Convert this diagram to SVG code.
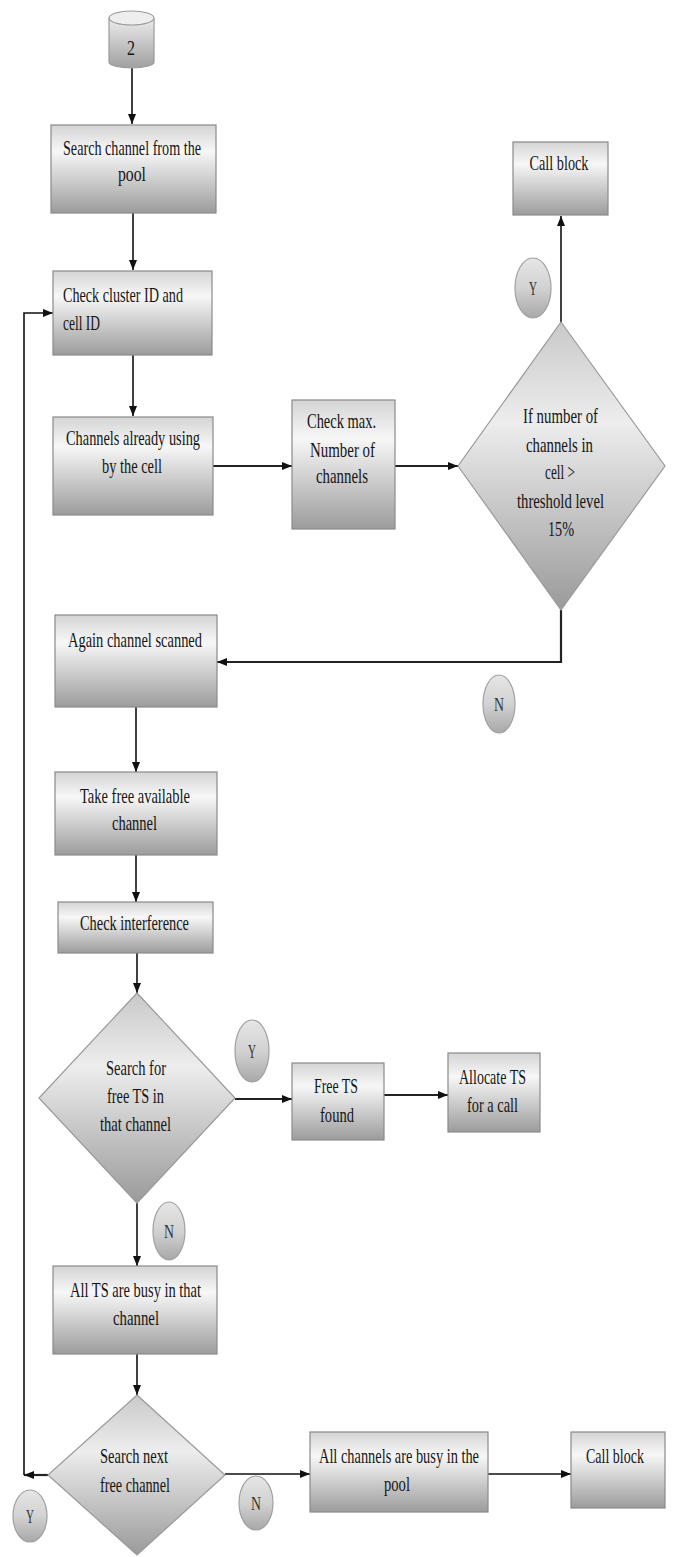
<svg xmlns="http://www.w3.org/2000/svg" width="676" height="1557" viewBox="0 0 676 1557">
<style>
.box{fill:url(#gb);stroke:#8a8a8a;stroke-width:1.2}
.sh{fill:none;stroke:#cfcfcf;stroke-width:1.5}
.dia{fill:url(#gd);stroke:#9a9a9a;stroke-width:1.2}
.el{fill:url(#ge);stroke:#a0a0a0;stroke-width:1.2}
.t{font-family:"Liberation Serif","Times New Roman",serif;font-size:21px;fill:#151515;text-anchor:middle}
.tl{font-family:"Liberation Serif","Times New Roman",serif;font-size:21px;fill:#151515;text-anchor:start}
.lt{font-family:"Liberation Serif","Times New Roman",serif;font-size:18px;fill:#333;text-anchor:middle}
.c{fill:none;stroke:#111;stroke-width:1.6}
.h{fill:none;stroke:#222;stroke-width:2.2}
</style>
<defs>
<linearGradient id="gb" x1="0" y1="0" x2="0" y2="1">
<stop offset="0" stop-color="#d4d4d4"/>
<stop offset="0.3" stop-color="#f7f7f7"/>
<stop offset="1" stop-color="#9c9c9c"/>
</linearGradient>
<linearGradient id="gd" x1="0" y1="0" x2="0" y2="1">
<stop offset="0" stop-color="#c9c9c9"/>
<stop offset="0.35" stop-color="#ededed"/>
<stop offset="1" stop-color="#9a9a9a"/>
</linearGradient>
<linearGradient id="ge" x1="0" y1="0" x2="0" y2="1">
<stop offset="0" stop-color="#e6e6e6"/>
<stop offset="0.5" stop-color="#d2d2d2"/>
<stop offset="1" stop-color="#a8a8a8"/>
</linearGradient>
<linearGradient id="gc" x1="0" y1="0" x2="0" y2="1">
<stop offset="0" stop-color="#ececec"/>
<stop offset="1" stop-color="#a0a0a0"/>
</linearGradient>
<marker id="a" viewBox="0 0 10 8" refX="10" refY="4" markerWidth="10" markerHeight="8" markerUnits="userSpaceOnUse" orient="auto">
<path d="M0,0 L10,4 L0,8 z" fill="#111"/>
</marker>
</defs>

<g id="connectors">
<path class="c" d="M132,68 L132,124" marker-end="url(#a)"/>
<path class="c" d="M133,213 L133,270" marker-end="url(#a)"/>
<path class="c" d="M133,355 L133,416" marker-end="url(#a)"/>
<path class="h" d="M213,466 L292,466" marker-end="url(#a)"/>
<path class="h" d="M395,466 L458,466" marker-end="url(#a)"/>
<path class="c" d="M561,322 L561,216" marker-end="url(#a)"/>
<path class="h" d="M561,610 L561,662 L217,662" marker-end="url(#a)"/>
<path class="c" d="M136,707 L136,772" marker-end="url(#a)"/>
<path class="c" d="M136,855 L136,902" marker-end="url(#a)"/>
<path class="c" d="M137,953 L137,993" marker-end="url(#a)"/>
<path class="h" d="M235,1099 L292,1099" marker-end="url(#a)"/>
<path class="h" d="M384,1095 L448,1095" marker-end="url(#a)"/>
<path class="c" d="M137,1203 L137,1266" marker-end="url(#a)"/>
<path class="c" d="M137,1354 L137,1395" marker-end="url(#a)"/>
<path class="c" d="M225,1474 L310,1474" marker-end="url(#a)"/>
<path class="c" d="M488,1474 L571,1474" marker-end="url(#a)"/>
<path class="h" d="M48,1475 L24,1475" marker-end="url(#a)"/>
<path class="c" d="M24,1475 L24,313 L53,313" marker-end="url(#a)"/>
</g>

<g id="start">
<path d="M109,18 L109,62 A22.5,6 0 0 0 154,62 L154,18" fill="url(#gc)" stroke="#9a9a9a" stroke-width="1.2"/>
<ellipse cx="131.5" cy="18" rx="22.5" ry="7" fill="#eeeeee" stroke="#9a9a9a" stroke-width="1.2"/>
<text class="t" x="131" y="55" font-size="22" textLength="8" lengthAdjust="spacingAndGlyphs">2</text>
</g>

<g id="search-pool">
<rect class="box" x="51" y="125" width="165" height="88"/>
<text class="t" x="132" y="155" textLength="138" lengthAdjust="spacingAndGlyphs">Search channel from the</text>
<text class="t" x="132" y="181" textLength="28" lengthAdjust="spacingAndGlyphs">pool</text>
</g>

<g id="check-cluster">
<rect class="box" x="53" y="271" width="159" height="84"/>
<text class="tl" x="63" y="302" textLength="120" lengthAdjust="spacingAndGlyphs">Check cluster ID and</text>
<text class="tl" x="63" y="330" textLength="37" lengthAdjust="spacingAndGlyphs">cell ID</text>
</g>

<g id="channels-using">
<rect class="box" x="53" y="417" width="160" height="98"/>
<text class="t" x="133" y="445" textLength="134" lengthAdjust="spacingAndGlyphs">Channels already using</text>
<text class="t" x="132" y="473" textLength="60" lengthAdjust="spacingAndGlyphs">by the cell</text>
</g>

<g id="check-max">
<rect class="box" x="292" y="400" width="103" height="129"/>
<text class="t" x="341.5" y="428" textLength="69" lengthAdjust="spacingAndGlyphs">Check max.</text>
<text class="t" x="342.5" y="457" textLength="65" lengthAdjust="spacingAndGlyphs">Number of</text>
<text class="t" x="342" y="483" textLength="52" lengthAdjust="spacingAndGlyphs">channels</text>
</g>

<g id="threshold">
<polygon class="dia" points="561,322 665,466 561,610 458,466"/>
<text class="t" x="560.5" y="423" textLength="75" lengthAdjust="spacingAndGlyphs">If number of</text>
<text class="t" x="559.5" y="452" textLength="67" lengthAdjust="spacingAndGlyphs">channels in</text>
<text class="t" x="560" y="479" textLength="30" lengthAdjust="spacingAndGlyphs">cell &gt;</text>
<text class="t" x="560.5" y="508" textLength="87" lengthAdjust="spacingAndGlyphs">threshold level</text>
<text class="t" x="561" y="536" textLength="26" lengthAdjust="spacingAndGlyphs">15%</text>
</g>

<g id="call-block-1">
<rect class="box" x="513" y="142" width="95" height="73"/>
<text class="t" x="559" y="170" textLength="59" lengthAdjust="spacingAndGlyphs">Call block</text>
</g>

<g id="label-y1">
<ellipse class="el" cx="533" cy="288" rx="18" ry="30"/>
<text class="lt" x="533" y="295" textLength="8" lengthAdjust="spacingAndGlyphs">Y</text>
</g>

<g id="label-n1">
<ellipse class="el" cx="499" cy="704" rx="16" ry="29"/>
<text class="lt" x="499" y="711" textLength="10" lengthAdjust="spacingAndGlyphs">N</text>
</g>

<g id="again-scanned">
<rect class="box" x="55" y="615" width="162" height="92"/>
<text class="t" x="135" y="647" textLength="134" lengthAdjust="spacingAndGlyphs">Again channel scanned</text>
</g>

<g id="take-free">
<rect class="box" x="55" y="772" width="162" height="83"/>
<text class="t" x="135" y="803" textLength="110" lengthAdjust="spacingAndGlyphs">Take free available</text>
<text class="t" x="134.5" y="830" textLength="45" lengthAdjust="spacingAndGlyphs">channel</text>
</g>

<g id="check-interference">
<rect class="box" x="58" y="902" width="155" height="51"/>
<text class="t" x="134.5" y="930" textLength="109" lengthAdjust="spacingAndGlyphs">Check interference</text>
</g>

<g id="search-free-ts">
<polygon class="dia" points="137,993 235,1098 137,1203 39,1098"/>
<text class="t" x="136" y="1075" textLength="60" lengthAdjust="spacingAndGlyphs">Search for</text>
<text class="t" x="135.5" y="1103" textLength="57" lengthAdjust="spacingAndGlyphs">free TS in</text>
<text class="t" x="135.5" y="1131" textLength="71" lengthAdjust="spacingAndGlyphs">that channel</text>
</g>

<g id="label-y2">
<ellipse class="el" cx="252" cy="1051" rx="17" ry="31"/>
<text class="lt" x="252" y="1058" textLength="8" lengthAdjust="spacingAndGlyphs">Y</text>
</g>

<g id="free-ts-found">
<rect class="box" x="292" y="1063" width="92" height="77"/>
<text class="t" x="336" y="1093" textLength="44" lengthAdjust="spacingAndGlyphs">Free TS</text>
<text class="t" x="337" y="1122" textLength="34" lengthAdjust="spacingAndGlyphs">found</text>
</g>

<g id="allocate-ts">
<rect class="box" x="448" y="1053" width="92" height="79"/>
<text class="t" x="492.5" y="1084" textLength="67" lengthAdjust="spacingAndGlyphs">Allocate TS</text>
<text class="t" x="492.5" y="1112" textLength="51" lengthAdjust="spacingAndGlyphs">for a call</text>
</g>

<g id="label-n2">
<ellipse class="el" cx="169" cy="1231" rx="16" ry="29"/>
<text class="lt" x="169" y="1238" textLength="10" lengthAdjust="spacingAndGlyphs">N</text>
</g>

<g id="all-ts-busy">
<rect class="box" x="53" y="1266" width="164" height="88"/>
<text class="t" x="135.5" y="1297" textLength="131" lengthAdjust="spacingAndGlyphs">All TS are busy in that</text>
<text class="t" x="136" y="1325" textLength="46" lengthAdjust="spacingAndGlyphs">channel</text>
</g>

<g id="search-next">
<polygon class="dia" points="137,1395 225,1475 137,1555 48,1475"/>
<text class="t" x="134" y="1463" textLength="68" lengthAdjust="spacingAndGlyphs">Search next</text>
<text class="t" x="135" y="1492" textLength="70" lengthAdjust="spacingAndGlyphs">free channel</text>
</g>

<g id="label-y3">
<ellipse class="el" cx="30" cy="1516" rx="17" ry="26"/>
<text class="lt" x="30" y="1523" textLength="8" lengthAdjust="spacingAndGlyphs">Y</text>
</g>

<g id="label-n3">
<ellipse class="el" cx="256" cy="1503" rx="17" ry="27"/>
<text class="lt" x="256" y="1510" textLength="10" lengthAdjust="spacingAndGlyphs">N</text>
</g>

<g id="all-channels-busy">
<rect class="box" x="310" y="1432" width="178" height="80"/>
<text class="t" x="399" y="1463" textLength="160" lengthAdjust="spacingAndGlyphs">All channels are busy in the</text>
<text class="t" x="397" y="1491" textLength="26" lengthAdjust="spacingAndGlyphs">pool</text>
</g>

<g id="call-block-2">
<rect class="box" x="571" y="1432" width="94" height="76"/>
<text class="t" x="615" y="1463" textLength="58" lengthAdjust="spacingAndGlyphs">Call block</text>
</g>
</svg>
